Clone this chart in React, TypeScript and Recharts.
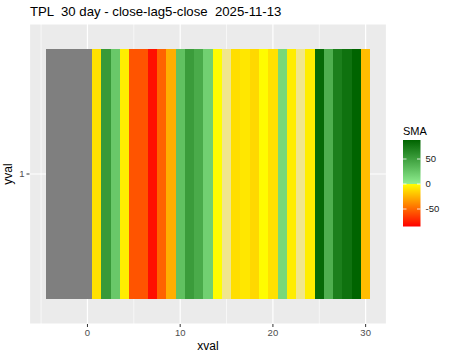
import { ComposedChart, XAxis, YAxis, CartesianGrid, ReferenceArea } from 'recharts';

const xVal = [-4, -3, -2, -1, 0, 1, 2, 3, 4, 5, 6, 7, 8, 9, 10, 11, 12, 13, 14, 15, 16, 17, 18, 19, 20, 21, 22, 23, 24, 25, 26, 27, 28, 29, 30];
const sma: (number | null)[] = [
  null, null, null, null, null,
  -10, 54, 24, -6, -57, -57, -80, -52, -27, 29,
  52, 43, 19, -1, 0, -11, -8, -13, -1, -10,
  14, -6, 0, -6, 84, 40, 71, 79, 88, -22,
];
const xTicks = [0, 10, 20, 30];
const xMinor = [-5, 5, 15, 25];
const legendTicks = [50, 0, -50];
const smaMin = -85;
const smaMax = 88;

const data = xVal.map((x, i) => ({ x, y: 1, sma: sma[i] }));

const FONT = '"Liberation Sans", Arial, sans-serif';

function hex(c: string) {
  return [1, 3, 5].map((i) => parseInt(c.slice(i, i + 2), 16));
}
function mix(a: string, b: string, t: number) {
  const A = hex(a);
  const B = hex(b);
  return 'rgb(' + A.map((v, i) => Math.round(v + (B[i] - v) * t)).join(',') + ')';
}
function smaColor(v: number | null) {
  if (v == null) return '#7F7F7F';
  if (v === 0) return '#F0E68C';
  if (v > 0) return mix('#90EE90', '#006400', Math.min(v / smaMax, 1));
  return mix('#FFFF00', '#FF0000', Math.min(-v / -smaMin, 1));
}

function Legend() {
  const bx = 403;
  const by = 140;
  const bw = 17.5;
  const bh = 86.5;
  const yOf = (v: number) => by + ((smaMax - v) / (smaMax - smaMin)) * bh;
  const zero = (smaMax / (smaMax - smaMin)) * 100;
  return (
    <svg width={450} height={360} style={{ position: 'absolute', left: 0, top: 0, pointerEvents: 'none' }}>
      <text x={30} y={15.5} fontSize={13.2} fill="#000" fontFamily={FONT} style={{ whiteSpace: 'pre' }}>
        {'TPL  30 day - close-lag5-close  2025-11-13'}
      </text>
      <defs>
        <linearGradient id="smaGrad" x1="0" y1="0" x2="0" y2="1">
          <stop offset="0%" stopColor="#006400" />
          <stop offset={zero + '%'} stopColor="#90EE90" />
          <stop offset={zero + '%'} stopColor="#FFFF00" />
          <stop offset="100%" stopColor="#FF0000" />
        </linearGradient>
      </defs>
      <text x={403} y={134.5} fontSize={11} fill="#000" fontFamily={FONT}>SMA</text>
      <rect x={bx} y={by} width={bw} height={bh} fill="url(#smaGrad)" />
      {legendTicks.map((t) => (
        <g key={t}>
          <line x1={bx} x2={bx + 3.5} y1={yOf(t)} y2={yOf(t)} stroke="#fff" strokeWidth={0.8} />
          <line x1={bx + bw - 3.5} x2={bx + bw} y1={yOf(t)} y2={yOf(t)} stroke="#fff" strokeWidth={0.8} />
          <text x={425.5} y={yOf(t)} dy="0.35em" fontSize={9.5} fill="#1A1A1A" fontFamily={FONT}>{t}</text>
        </g>
      ))}
    </svg>
  );
}

export default function App() {
  return (
    <div style={{ position: 'absolute', left: 0, top: 0, width: 450, height: 360, background: '#fff', fontFamily: FONT }}>
      <ComposedChart width={450} height={360} data={data} margin={{ top: 24, right: 63.5, bottom: 0, left: 0 }}>
        <CartesianGrid xAxisId="minor" fill="#EBEBEB" stroke="#FFFFFF" strokeWidth={0.6} horizontal={false} />
        <CartesianGrid stroke="#FFFFFF" strokeWidth={1.2} />
        <XAxis
          xAxisId="minor"
          type="number"
          dataKey="x"
          domain={[-6.25, 32.25]}
          ticks={xMinor}
          allowDataOverflow
          hide
        />
        <XAxis
          type="number"
          dataKey="x"
          domain={[-6.25, 32.25]}
          ticks={xTicks}
          allowDataOverflow
          height={36}
          axisLine={false}
          tickSize={3}
          tickLine={{ stroke: '#333333' }}
          tick={{ fill: '#4D4D4D', fontSize: 9.5, fontFamily: FONT }}
          label={{ value: 'xval', position: 'insideBottom', offset: 10, fill: '#000', fontSize: 12, fontFamily: FONT }}
        />
        <YAxis
          type="number"
          dataKey="y"
          domain={[0.4, 1.6]}
          ticks={[1]}
          allowDataOverflow
          width={29.5}
          axisLine={false}
          tickSize={3}
          tickLine={{ stroke: '#333333' }}
          tick={{ fill: '#4D4D4D', fontSize: 9.5, fontFamily: FONT }}
          label={{ value: 'yval', angle: -90, position: 'insideLeft', offset: 8, textAnchor: 'middle', fill: '#000', fontSize: 12, fontFamily: FONT }}
        />
        {data.map((d) => (
          <ReferenceArea
            key={d.x}
            x1={d.x - 0.5}
            x2={d.x + 0.5}
            y1={d.y - 0.5}
            y2={d.y + 0.5}
            fill={smaColor(d.sma)}
            fillOpacity={1}
            stroke="none"
            shapeRendering="crispEdges"
          />
        ))}
      </ComposedChart>
      <Legend />
    </div>
  );
}
